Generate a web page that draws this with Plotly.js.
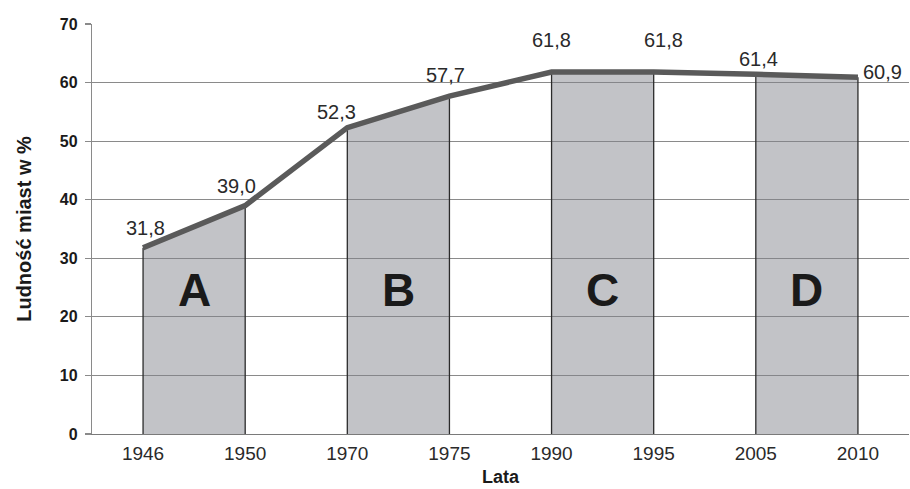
<!DOCTYPE html>
<html>
<head>
<meta charset="utf-8">
<script src="https://cdn.plot.ly/plotly-3.0.1.min.js"></script>
<style>html,body{margin:0;padding:0;background:#fff;}#chart{width:910px;height:489px;}</style>
</head>
<body>
<div id="chart"></div>
<script>
// ---- data ----
const years = ['1946', '1950', '1970', '1975', '1990', '1995', '2005', '2010'];
const urbanShare = [31.8, 39.0, 52.3, 57.7, 61.8, 61.8, 61.4, 60.9];
const periodLabels = ['A', 'B', 'C', 'D'];
const periodStartIndex = [0, 2, 4, 6];

// ---- styling (not data) ----
const labelShiftX = [2, -9, -11, -4, 0, 10, 3, 25];
const labelShiftY = [20, 20, 16, 21, 32, 32, 15, 5];
const periodLetterY = 24.6;
const FONT = 'Liberation Sans, Arial, sans-serif';

const fmt = v => v.toFixed(1).replace('.', ',');

const traces = [];

// shaded periods
periodStartIndex.forEach(i => {
  traces.push({
    type: 'scatter', mode: 'lines',
    x: [years[i], years[i + 1]],
    y: [urbanShare[i], urbanShare[i + 1]],
    fill: 'tozeroy',
    fillcolor: 'rgba(128,130,138,0.48)',
    line: {width: 0},
    hoverinfo: 'skip', showlegend: false
  });
});

// vertical drop lines
const vx = [], vy = [];
years.forEach((y, i) => { vx.push(y, y, null); vy.push(0, urbanShare[i], null); });
traces.push({
  type: 'scatter', mode: 'lines', x: vx, y: vy,
  line: {color: '#2b2b2b', width: 1.3},
  connectgaps: false, hoverinfo: 'skip', showlegend: false
});

// main line
traces.push({
  type: 'scatter', mode: 'lines', x: years, y: urbanShare,
  line: {color: '#5a5a5a', width: 5.5},
  showlegend: false
});

const annotations = [];
years.forEach((y, i) => {
  annotations.push({
    x: i, y: urbanShare[i], xref: 'x', yref: 'y',
    text: fmt(urbanShare[i]), showarrow: false,
    xshift: labelShiftX[i], yshift: labelShiftY[i],
    font: {family: FONT, size: 20, color: '#2a2a2a'}
  });
});
periodLabels.forEach((p, k) => {
  annotations.push({
    x: periodStartIndex[k] + 0.5, y: periodLetterY, xref: 'x', yref: 'y',
    text: '<b>' + p + '</b>', showarrow: false,
    font: {family: FONT, size: 46, color: '#1a1a1a'}
  });
});

const layout = {
  width: 910, height: 489,
  margin: {l: 92, r: 1, t: 24, b: 55},
  paper_bgcolor: '#fff', plot_bgcolor: '#fff',
  showlegend: false,
  xaxis: {
    type: 'category', categoryorder: 'array', categoryarray: years,
    range: [-0.5, 7.5],
    showgrid: false, zeroline: false,
    showline: true, linecolor: '#7a7a7a', linewidth: 1.2,
    ticks: '', ticklabelstandoff: 2,
    tickfont: {family: FONT, size: 19, color: '#2a2a2a'},
    title: {text: '<b>Lata</b>', font: {family: FONT, size: 18, color: '#1a1a1a'}, standoff: 7}
  },
  yaxis: {
    range: [0, 70], dtick: 10, tick0: 0,
    showgrid: true, gridcolor: '#8a8a8a', gridwidth: 1.2,
    zeroline: false,
    showline: true, linecolor: '#8a8a8a', linewidth: 1.2,
    ticks: 'outside', ticklen: 6, tickcolor: '#8a8a8a', tickwidth: 1.2,
    ticklabelstandoff: 4,
    tickfont: {family: FONT, size: 16, color: '#1a1a1a', weight: 'bold'},
    title: {text: '<b>Ludność miast w %</b>', font: {family: FONT, size: 20, color: '#1a1a1a'}, standoff: 22}
  },
  annotations: annotations
};

Plotly.newPlot('chart', traces, layout, {staticPlot: true, displayModeBar: false});
</script>
</body>
</html>
